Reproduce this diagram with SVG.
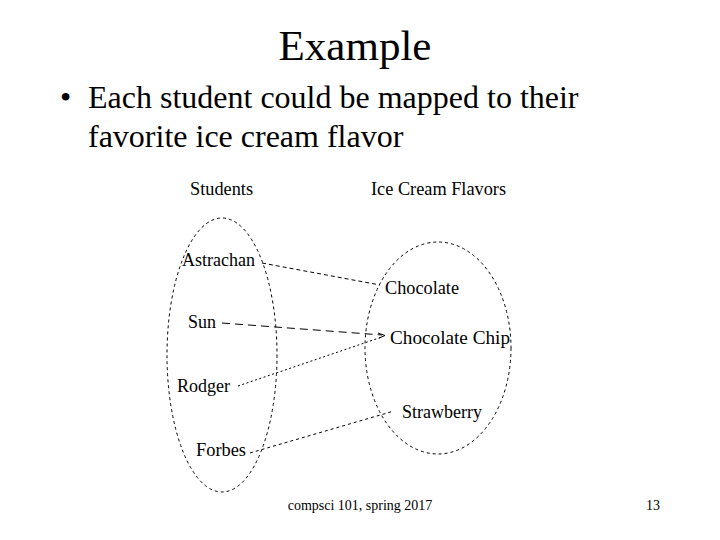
<svg xmlns="http://www.w3.org/2000/svg" width="720" height="540" viewBox="0 0 720 540">
<style>
.t{font-family:"Liberation Serif","Times New Roman",serif;fill:#000}
.lbl{font-size:18.5px}
.set{fill:none;stroke:#000;stroke-width:1;stroke-dasharray:3 3}
.c{fill:none;stroke:#000;stroke-width:1}
</style>
<rect width="720" height="540" fill="#fff"/>
<text class="t" x="355" y="60" font-size="43" text-anchor="middle">Example</text>
<text class="t" x="60" y="108" font-size="32">•</text>
<text class="t" x="88" y="108" font-size="32">Each student could be mapped to their</text>
<text class="t" x="88" y="147" font-size="32">favorite ice cream flavor</text>
<text class="t lbl" x="190" y="195" textLength="63" lengthAdjust="spacingAndGlyphs">Students</text>
<text class="t lbl" x="371" y="195" textLength="135" lengthAdjust="spacingAndGlyphs">Ice Cream Flavors</text>
<g id="students">
<ellipse class="set" cx="222" cy="355" rx="55" ry="137"/>
</g>
<g id="flavors">
<ellipse class="set" cx="438" cy="348" rx="73" ry="106"/>
</g>
<g id="astrachan"><text class="t lbl" x="182" y="266" textLength="73" lengthAdjust="spacingAndGlyphs">Astrachan</text></g>
<g id="sun"><text class="t lbl" x="188" y="328" textLength="28" lengthAdjust="spacingAndGlyphs">Sun</text></g>
<g id="rodger"><text class="t lbl" x="177" y="392" textLength="53" lengthAdjust="spacingAndGlyphs">Rodger</text></g>
<g id="forbes"><text class="t lbl" x="196" y="456" textLength="50" lengthAdjust="spacingAndGlyphs">Forbes</text></g>
<g id="chocolate"><text class="t lbl" x="385" y="294" textLength="74" lengthAdjust="spacingAndGlyphs">Chocolate</text></g>
<g id="chocolatechip"><text class="t lbl" x="390" y="344" textLength="120" lengthAdjust="spacingAndGlyphs">Chocolate Chip</text></g>
<g id="strawberry"><text class="t lbl" x="402" y="418" textLength="80" lengthAdjust="spacingAndGlyphs">Strawberry</text></g>
<g id="connectors">
<line class="c" x1="262" y1="263" x2="380" y2="285" stroke-dasharray="4 3"/>
<line class="c" x1="222" y1="323" x2="382" y2="335" stroke-dasharray="8 5"/>
<line class="c" x1="238" y1="386" x2="382" y2="337" stroke-dasharray="2 2.5"/>
<line class="c" x1="250" y1="453" x2="394" y2="411" stroke-dasharray="3 3"/>
<polyline class="c" points="378,333 385,335.5 379,338"/>
</g>
<text class="t" x="360" y="510" font-size="14" text-anchor="middle">compsci 101, spring 2017</text>
<text class="t" x="660" y="510" font-size="14" text-anchor="end">13</text>
</svg>
